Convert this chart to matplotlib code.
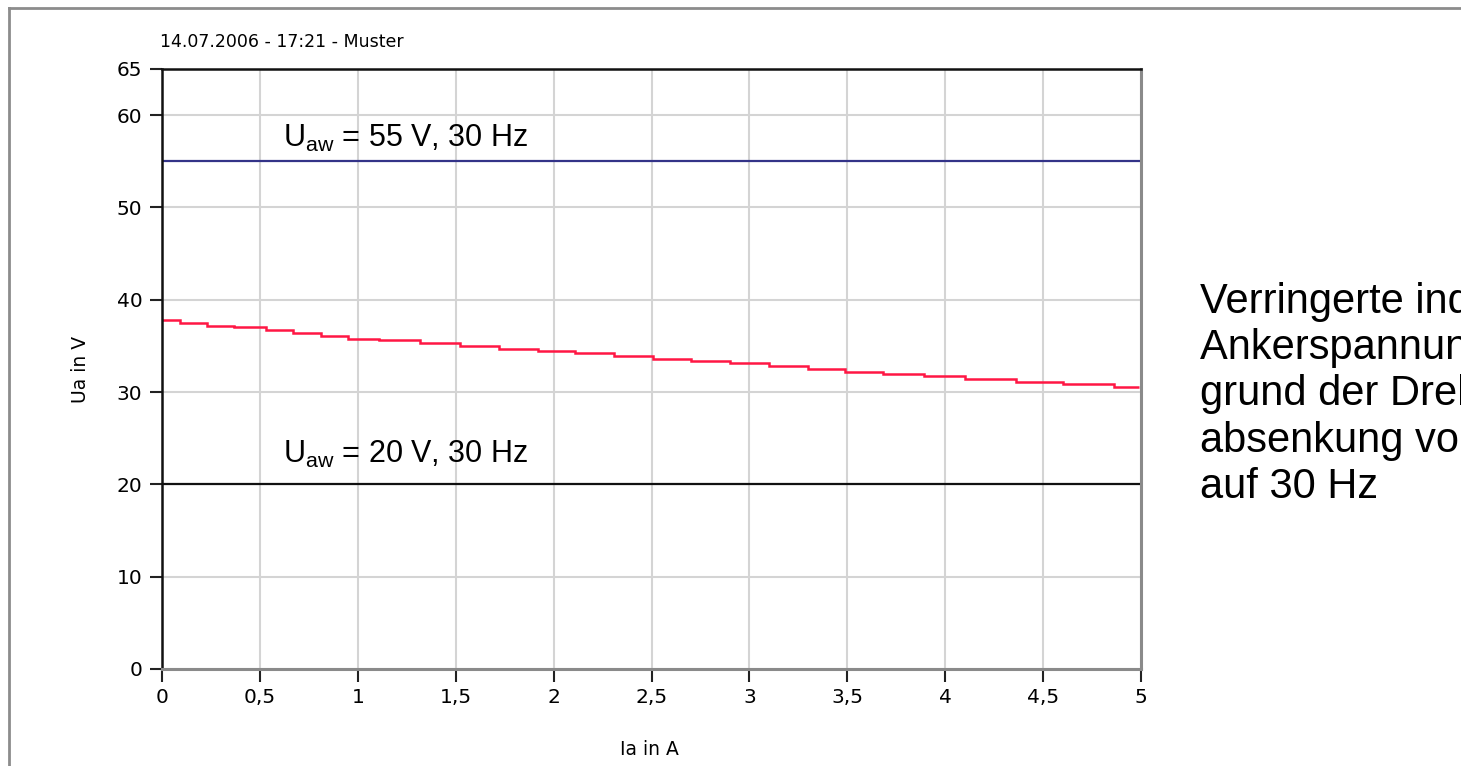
import matplotlib
matplotlib.use('Agg')
from matplotlib import pyplot as plt
from matplotlib.lines import Line2D

plt.rcParams['mathtext.fontset'] = 'custom'
plt.rcParams['mathtext.rm'] = 'Liberation Sans'

# step edges of the measured curve (A) and the level on each step (V)
ia_edges = [0, 0.09, 0.23, 0.37, 0.53, 0.67, 0.81, 0.95, 1.11, 1.32, 1.52, 1.72,
            1.92, 2.11, 2.31, 2.51, 2.70, 2.90, 3.10, 3.30, 3.49, 3.68, 3.89,
            4.10, 4.36, 4.60, 4.86, 4.99]
ua_levels = [37.8, 37.5, 37.2, 37.0, 36.7, 36.4, 36.1, 35.8, 35.6, 35.3, 35.0,
             34.7, 34.5, 34.2, 33.9, 33.6, 33.4, 33.1, 32.8, 32.5, 32.2, 32.0,
             31.7, 31.4, 31.1, 30.9, 30.6]

u_high = 55
u_low = 20
x_ticks = [0, 0.5, 1, 1.5, 2, 2.5, 3, 3.5, 4, 4.5, 5]
x_labels = ['0', '0,5', '1', '1,5', '2', '2,5', '3', '3,5', '4', '4,5', '5']
y_ticks = [0, 10, 20, 30, 40, 50, 60, 65]

fig = plt.figure(figsize=(14.61, 7.66), dpi=100)
ax = fig.add_axes([162 / 1461, 1 - 669 / 766, 979 / 1461, 600 / 766])

ax.grid(True, color='#d4d4d4', lw=1.5)
ax.set_axisbelow(True)

ax.axhline(u_high, color='#333388', lw=1.6)
ax.axhline(u_low, color='#111111', lw=1.6)
ax.stairs(ua_levels, ia_edges, color='#ff1744', lw=1.8, baseline=None)

ax.set_xlim(0, 5)
ax.set_ylim(0, 65)
ax.set_xticks(x_ticks)
ax.set_xticklabels(x_labels)
ax.set_yticks(y_ticks)
ax.tick_params(labelsize=14.5, length=9, width=1.5, color='#222222', pad=5)

for side in ['left', 'top']:
    ax.spines[side].set_color('#111111')
    ax.spines[side].set_linewidth(1.8)
for side in ['right', 'bottom']:
    ax.spines[side].set_color('#8a8a8a')
    ax.spines[side].set_linewidth(2.2)

ax.set_xlabel('Ia in A', fontsize=13.5)
ax.set_ylabel('Ua in V', fontsize=13.5)
ax.xaxis.set_label_coords(0.498, -0.118)
ax.yaxis.set_label_coords(-0.0735, 0.50)

ax.text(0.62, 56.6, r'U$_{\mathrm{aw}}$ = 55 V, 30 Hz', fontsize=22,
        family='Liberation Sans', va='baseline')
ax.text(0.62, 22.3, r'U$_{\mathrm{aw}}$ = 20 V, 30 Hz', fontsize=22,
        family='Liberation Sans', va='baseline')

fig.text(160 / 1461, 1 - 42 / 766, '14.07.2006 - 17:21 - Muster', fontsize=12.5,
         va='center')

fig.text(1200 / 1461, 1 - 282 / 766,
         'Verringerte induzierte\nAnkerspannung auf-\ngrund der Drehzahl-\n'
         'absenkung von 50 Hz\nauf 30 Hz',
         fontsize=30, family='Liberation Sans', va='top', linespacing=1.2)

# grey frame of the screenshot
fig.add_artist(Line2D([9 / 1461, 9 / 1461], [0, 1 - 8 / 766], color='#8c8c8c', lw=2))
fig.add_artist(Line2D([9 / 1461, 1], [1 - 8 / 766, 1 - 8 / 766], color='#8c8c8c', lw=2))

fig.savefig('out.png', dpi=100)
